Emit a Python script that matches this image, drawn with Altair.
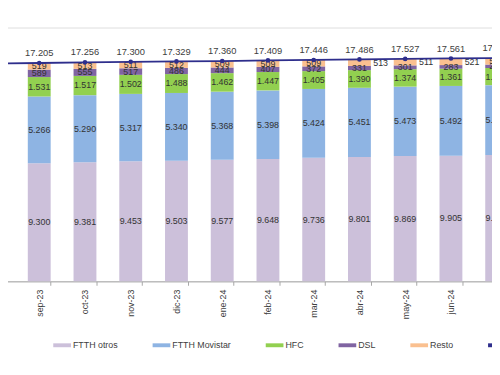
import altair as alt
import pandas as pd

months = ["ago-23", "sep-23", "oct-23", "nov-23", "dic-23", "ene-24", "feb-24",
          "mar-24", "abr-24", "may-24", "jun-24", "jul-24"]
ftth_otros = [9221, 9300, 9381, 9453, 9503, 9577, 9648, 9736, 9801, 9869, 9905, 9950]
ftth_movistar = [5245, 5266, 5290, 5317, 5340, 5368, 5398, 5424, 5451, 5473, 5492, 5510]
hfc = [1551, 1531, 1517, 1502, 1488, 1462, 1447, 1405, 1390, 1374, 1361, 1350]
dsl = [617, 589, 555, 517, 486, 444, 407, 372, 331, 301, 283, 270]
resto = [524, 519, 513, 511, 512, 509, 509, 509, 513, 511, 521, 515]
total = [17158, 17205, 17256, 17300, 17329, 17360, 17409, 17446, 17486, 17527, 17561, 17595]
resto_label_outside = ["abr-24", "may-24", "jun-24"]

series_names = ["FTTH otros", "FTTH Movistar", "HFC", "DSL", "Resto"]
series_values = [ftth_otros, ftth_movistar, hfc, dsl, resto]
series_colors = ["#CCC0DA", "#8EB4E3", "#92D050", "#8064A2", "#FAC090"]
line_name = "Total"
line_color = "#2E2E8C"


def fmt(v):
    return f"{v:,}".replace(",", ".")


rows = []
for si, (name, vals) in enumerate(zip(series_names, series_values)):
    for m, v in zip(months, vals):
        rows.append({"month": m, "serie": name, "order": si, "value": v, "label": fmt(v)})
df = pd.DataFrame(rows)

tot_df = pd.DataFrame({"month": months, "total": total, "label": [fmt(t) for t in total],
                       "serie": line_name})

x_enc = alt.X("month:N", sort=months, title=None,
              scale=alt.Scale(domain=months, paddingInner=0.5, paddingOuter=0.25),
              axis=alt.Axis(labelAngle=-90, tickBand="extent", tickSize=4,
                            domainColor="#A6A6A6", tickColor="#A6A6A6",
                            labelColor="#404040", labelFontSize=9, labelPadding=4,
                            labelFont="Liberation Sans"))
y_scale = alt.Scale(domain=[0, 20000])
color_scale = alt.Scale(domain=series_names + [line_name],
                        range=series_colors + [line_color])

bars = alt.Chart(df).mark_bar().encode(
    x=x_enc,
    y=alt.Y("value:Q", stack="zero", scale=y_scale, axis=None),
    color=alt.Color("serie:N", scale=color_scale, title=None,
                    legend=alt.Legend(orient="none", direction="horizontal",
                                      legendX=84, legendY=314, columns=6,
                                      symbolType="M-1,-0.22L1,-0.22L1,0.22L-1,0.22Z",
                                      symbolSize=324, symbolStrokeWidth=0,
                                      labelFontSize=9, labelColor="#404040",
                                      labelFont="Liberation Sans",
                                      labelOffset=2, columnPadding=35)),
    order=alt.Order("order:Q"),
)

base_lbl = alt.Chart(df).transform_window(
    cum="sum(value)", groupby=["month"], sort=[alt.SortField("order")]
).transform_calculate(mid="datum.cum - datum.value / 2")

inner_labels = base_lbl.transform_filter(
    alt.FieldOneOfPredicate(field="month", oneOf=resto_label_outside).__invert__()
    | (alt.datum.serie != "Resto")
).mark_text(fontSize=9, color="#333333", font="Liberation Sans").encode(
    x=alt.X("month:N", sort=months),
    y=alt.Y("mid:Q", scale=y_scale),
    text="label:N",
)

outer_labels = base_lbl.transform_filter(
    alt.FieldOneOfPredicate(field="month", oneOf=resto_label_outside)
).transform_filter(alt.datum.serie == "Resto").mark_text(
    fontSize=9, color="#333333", font="Liberation Sans", align="left", dx=14
).encode(
    x=alt.X("month:N", sort=months),
    y=alt.Y("mid:Q", scale=y_scale),
    text="label:N",
)

line = alt.Chart(tot_df).mark_line(strokeWidth=1.8).encode(
    x=alt.X("month:N", sort=months),
    y=alt.Y("total:Q", scale=y_scale),
    color=alt.Color("serie:N", scale=color_scale),
)
pts = alt.Chart(tot_df).mark_circle(size=22, opacity=1, color=line_color).encode(
    x=alt.X("month:N", sort=months),
    y=alt.Y("total:Q", scale=y_scale),
)
tot_labels = alt.Chart(tot_df).mark_text(fontSize=9.5, color="#404040", dy=-10,
                                         font="Liberation Sans").encode(
    x=alt.X("month:N", sort=months),
    y=alt.Y("total:Q", scale=y_scale),
    text="label:N",
)

chart = alt.layer(bars, inner_labels, outer_labels, line, pts, tot_labels).properties(
    width=558, height=258,
    autosize=alt.AutoSizeParams(type="none"),
    padding={"left": -38, "right": -28, "top": 17, "bottom": 70},
).configure_view(stroke=None).configure(background="white")

chart.save("out.html", embed_options={"renderer": "svg", "actions": False})
